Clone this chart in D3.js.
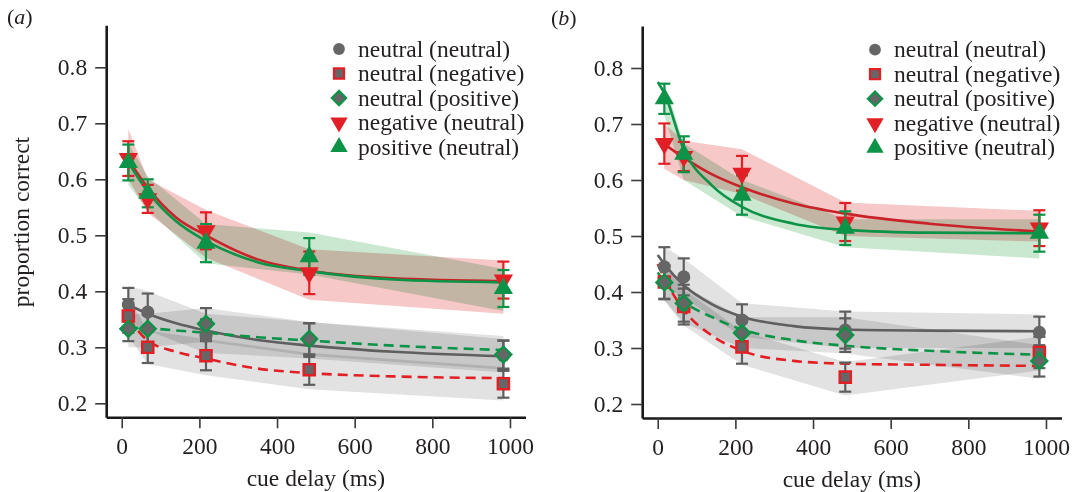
<!DOCTYPE html>
<html>
<head>
<meta charset="utf-8">
<script src="https://cdn.jsdelivr.net/npm/d3@7"></script>
<style>
  body { margin: 0; background: #fff; }
  svg { font-family: "Liberation Serif", "Times New Roman", serif; }
  .band { mix-blend-mode: multiply; }
</style>
</head>
<body>
<script>
// cue delays (ms) at which the data were taken
const delays = [17, 67, 217, 483, 983];
const fitDelaysA = [17, 67, 140, 217, 350, 483, 700, 983];
const fitDelaysB = [0, 17, 67, 140, 217, 350, 483, 700, 983];

const seriesNames = ["neutral (neutral)", "neutral (negative)", "neutral (positive)",
                     "negative (neutral)", "positive (neutral)"];
const xTicks = [0, 200, 400, 600, 800, 1000];
const yTicks = [0.2, 0.3, 0.4, 0.5, 0.6, 0.7, 0.8];

// ---- panel (a) ----
const aNeuNeu = [0.376, 0.363, 0.320, 0.313, 0.285];
const aNeuNeg = [0.356, 0.300, 0.285, 0.260, 0.235];
const aNeuPos = [0.333, 0.333, 0.342, 0.315, 0.287];
const aNegNeu = [0.637, 0.565, 0.508, 0.433, 0.420];
const aPosNeu = [0.630, 0.575, 0.486, 0.462, 0.405];

const aErrNeuNeu = [0.030, 0.033, 0.030, 0.030, 0.027];
const aErrNeuNeg = [0.030, 0.028, 0.026, 0.027, 0.025];
const aErrNeuPos = [0.022, 0.025, 0.028, 0.028, 0.025];
const aErrNegNeu = [0.031, 0.025, 0.033, 0.038, 0.033];
const aErrPosNeu = [0.032, 0.025, 0.034, 0.033, 0.033];

const aFitNeuNeu = [0.376, 0.360, 0.343, 0.330, 0.313, 0.303, 0.292, 0.284];
const aFitNeuNeg = [0.352, 0.312, 0.292, 0.280, 0.262, 0.254, 0.248, 0.245];
const aFitNeuPos = [0.335, 0.334, 0.330, 0.326, 0.318, 0.312, 0.303, 0.295];
const aFitNegNeu = [0.635, 0.585, 0.532, 0.500, 0.457, 0.437, 0.423, 0.418];
const aFitPosNeu = [0.630, 0.578, 0.525, 0.490, 0.452, 0.436, 0.421, 0.416];

const aBandLoNeuNeu = [0.345, 0.330, 0.290, 0.280, 0.255];
const aBandHiNeuNeu = [0.410, 0.400, 0.360, 0.345, 0.315];
const aBandLoNeuNeg = [0.320, 0.270, 0.250, 0.225, 0.205];
const aBandHiNeuNeg = [0.390, 0.330, 0.315, 0.290, 0.265];
const aBandLoNeuPos = [0.300, 0.300, 0.310, 0.285, 0.260];
const aBandHiNeuPos = [0.360, 0.360, 0.370, 0.345, 0.320];
const aBandLoNegNeu = [0.600, 0.540, 0.460, 0.385, 0.360];
const aBandHiNegNeu = [0.690, 0.600, 0.545, 0.475, 0.455];
const aBandLoPosNeu = [0.590, 0.545, 0.450, 0.430, 0.365];
const aBandHiPosNeu = [0.665, 0.605, 0.520, 0.505, 0.440];

// ---- panel (b) ----
const bNeuNeu = [0.445, 0.427, 0.350, 0.332, 0.328];
const bNeuNeg = [0.418, 0.374, 0.302, 0.248, 0.292];
const bNeuPos = [0.417, 0.380, 0.327, 0.323, 0.277];
const bNegNeu = [0.665, 0.642, 0.612, 0.525, 0.514];
const bPosNeu = [0.745, 0.646, 0.573, 0.514, 0.505];

const bErrNeuNeu = [0.035, 0.033, 0.028, 0.033, 0.028];
const bErrNeuNeg = [0.030, 0.032, 0.030, 0.026, 0.028];
const bErrNeuPos = [0.030, 0.033, 0.028, 0.030, 0.028];
const bErrNegNeu = [0.036, 0.026, 0.031, 0.034, 0.032];
const bErrPosNeu = [0.027, 0.032, 0.035, 0.030, 0.033];

const bFitNeuNeu = [0.466, 0.450, 0.412, 0.378, 0.356, 0.339, 0.333, 0.331, 0.330];
const bFitNeuNeg = [0.450, 0.425, 0.368, 0.322, 0.295, 0.277, 0.272, 0.270, 0.268];
const bFitNeuPos = [0.435, 0.418, 0.383, 0.355, 0.333, 0.314, 0.304, 0.295, 0.288];
const bFitNegNeu = [0.672, 0.664, 0.640, 0.610, 0.587, 0.558, 0.540, 0.522, 0.508];
const bFitPosNeu = [0.775, 0.755, 0.655, 0.590, 0.552, 0.522, 0.511, 0.506, 0.505];

const bBandLoNeuNeu = [0.410, 0.390, 0.320, 0.300, 0.300];
const bBandHiNeuNeu = [0.480, 0.460, 0.380, 0.365, 0.360];
const bBandLoNeuNeg = [0.385, 0.340, 0.270, 0.215, 0.260];
const bBandHiNeuNeg = [0.450, 0.405, 0.330, 0.275, 0.320];
const bBandLoNeuPos = [0.385, 0.345, 0.300, 0.290, 0.245];
const bBandHiNeuPos = [0.450, 0.410, 0.355, 0.355, 0.305];
const bBandLoNegNeu = [0.620, 0.600, 0.575, 0.500, 0.490];
const bBandHiNegNeu = [0.700, 0.670, 0.655, 0.560, 0.545];
const bBandLoPosNeu = [0.715, 0.600, 0.535, 0.480, 0.460];
const bBandHiPosNeu = [0.775, 0.665, 0.600, 0.530, 0.530];

// colours / styles
const RED = "#e31f26", GREEN = "#0d9347", GREY = "#666666", ERRGREY = "#5e5e5e";
const styles = [
  { shape: "circle",  fill: GREY,  stroke: "none", err: ERRGREY, band: "#e2e2e2", line: "#5f5f5f", dash: null },
  { shape: "square",  fill: GREY,  stroke: RED,    err: ERRGREY, band: "#e2e2e2", line: RED,       dash: "10,6" },
  { shape: "diamond", fill: GREY,  stroke: GREEN,  err: ERRGREY, band: "#e2e2e2", line: GREEN,     dash: "10,6" },
  { shape: "down",    fill: RED,   stroke: "none", err: RED,     band: "#f6c8c8", line: "#c9232a", dash: null },
  { shape: "up",      fill: GREEN, stroke: "none", err: GREEN,   band: "#cae7d0", line: GREEN,     dash: null }
];

function table(means, errs, fits, fitX, bandLo, bandHi) {
  return seriesNames.map((name, i) => ({
    name,
    style: styles[i],
    points: delays.map((t, j) => ({ t, v: means[i][j], e: errs[i][j] })),
    fit: fitX.map((t, j) => ({ t, v: fits[i][j] })),
    band: delays.map((t, j) => ({ t, lo: bandLo[i][j], hi: bandHi[i][j] }))
  }));
}

const panels = [
  { label: "a", dx: 0, dy: 0,
    series: table([aNeuNeu, aNeuNeg, aNeuPos, aNegNeu, aPosNeu],
                  [aErrNeuNeu, aErrNeuNeg, aErrNeuPos, aErrNegNeu, aErrPosNeu],
                  [aFitNeuNeu, aFitNeuNeg, aFitNeuPos, aFitNegNeu, aFitPosNeu], fitDelaysA,
                  [aBandLoNeuNeu, aBandLoNeuNeg, aBandLoNeuPos, aBandLoNegNeu, aBandLoPosNeu],
                  [aBandHiNeuNeu, aBandHiNeuNeg, aBandHiNeuPos, aBandHiNegNeu, aBandHiPosNeu]) },
  { label: "b", dx: 536, dy: 0.7,
    series: table([bNeuNeu, bNeuNeg, bNeuPos, bNegNeu, bPosNeu],
                  [bErrNeuNeu, bErrNeuNeg, bErrNeuPos, bErrNegNeu, bErrPosNeu],
                  [bFitNeuNeu, bFitNeuNeg, bFitNeuPos, bFitNegNeu, bFitPosNeu], fitDelaysB,
                  [bBandLoNeuNeu, bBandLoNeuNeg, bBandLoNeuPos, bBandLoNegNeu, bBandLoPosNeu],
                  [bBandHiNeuNeu, bBandHiNeuNeg, bBandHiNeuPos, bBandHiNegNeu, bBandHiPosNeu]) }
];

const svg = d3.select("body").append("svg")
    .attr("width", 1075)
    .attr("height", 492);

const x = d3.scaleLinear().domain([-40, 1040]).range([106.2, 525.5]);
const y = d3.scaleLinear().domain([0.175, 0.875]).range([417.3, 25.3]);

function symbolPath(shape, big) {
  const k = big ? 1 : 0.9;
  if (shape === "circle") return d3.symbol(d3.symbolCircle, 135 * k * k)();
  if (shape === "square") return d3.symbol(d3.symbolSquare, 125 * k * k)();
  if (shape === "diamond") return d3.symbol(d3.symbolSquare, 125 * k * k)();
  return d3.symbol(d3.symbolTriangle, 160 * k * k)();
}
function symbolRotate(shape) {
  if (shape === "diamond") return 45;
  if (shape === "down") return 180;
  return 0;
}

panels.forEach(p => {
  const g = svg.append("g").attr("transform", `translate(${p.dx},${p.dy})`);

  // bands
  const area = d3.area().x(d => x(d.t)).y0(d => y(d.lo)).y1(d => y(d.hi));
  g.selectAll("path.band")
    .data(p.series)
    .enter().append("path")
      .attr("class", "band")
      .attr("d", d => area(d.band))
      .attr("fill", d => d.style.band);

  // fitted curves
  const line = d3.line().x(d => x(d.t)).y(d => y(d.v)).curve(d3.curveMonotoneX);
  g.selectAll("path.fit")
    .data(p.series)
    .enter().append("path")
      .attr("class", "fit")
      .attr("d", d => line(d.fit))
      .attr("fill", "none")
      .attr("stroke", d => d.style.line)
      .attr("stroke-width", 2.6)
      .attr("stroke-dasharray", d => d.style.dash);

  // error bars
  p.series.forEach(s => {
    const eg = g.append("g")
        .attr("stroke", s.style.err)
        .attr("stroke-width", 2.2)
        .attr("fill", "none");
    s.points.forEach(d => {
      const cx = x(d.t), y0 = y(d.v - d.e), y1 = y(d.v + d.e);
      eg.append("line").attr("x1", cx).attr("x2", cx).attr("y1", y0).attr("y2", y1);
      eg.append("line").attr("x1", cx - 6).attr("x2", cx + 6).attr("y1", y0).attr("y2", y0);
      eg.append("line").attr("x1", cx - 6).attr("x2", cx + 6).attr("y1", y1).attr("y2", y1);
    });
  });

  // markers
  p.series.forEach(s => {
    g.selectAll(null)
      .data(s.points)
      .enter().append("path")
        .attr("d", symbolPath(s.style.shape, true))
        .attr("transform", d => `translate(${x(d.t)},${y(d.v)}) rotate(${symbolRotate(s.style.shape)})`)
        .attr("fill", s.style.fill)
        .attr("stroke", s.style.stroke)
        .attr("stroke-width", 2.4);
  });

  // axes
  const xAxis = g.append("g")
      .attr("transform", `translate(0,${y(0.175)})`)
      .call(d3.axisBottom(x).tickValues(xTicks).tickFormat(d3.format("d"))
            .tickSize(11).tickSizeOuter(0).tickPadding(9));
  const yAxis = g.append("g")
      .attr("transform", `translate(${x(-40)},0)`)
      .call(d3.axisLeft(y).tickValues(yTicks).tickFormat(d3.format(".1f"))
            .tickSize(11).tickSizeOuter(0).tickPadding(8));
  [xAxis, yAxis].forEach(a => {
    a.select(".domain").attr("stroke", "#1a1a1a").attr("stroke-width", 2.6);
    a.selectAll(".tick line").attr("stroke", "#3a3a3a").attr("stroke-width", 1.6);
    a.selectAll(".tick text")
      .attr("font-family", "Liberation Serif, serif")
      .attr("font-size", 23.5)
      .attr("fill", "#231f20");
  });

  g.append("text")
    .attr("x", (x(-40) + x(1040)) / 2)
    .attr("y", 486)
    .attr("text-anchor", "middle")
    .attr("font-size", 23.5)
    .attr("fill", "#231f20")
    .text("cue delay (ms)");

  if (p.label === "a") {
    g.append("text")
      .attr("transform", "rotate(-90)")
      .attr("x", -222)
      .attr("y", 28.5)
      .attr("text-anchor", "middle")
      .attr("font-size", 23.5)
      .attr("fill", "#231f20")
      .text("proportion correct");
  }

  // panel letter
  const lab = g.append("text")
      .attr("x", p.label === "a" ? 7 : 15)
      .attr("y", 24)
      .attr("font-size", 22)
      .attr("fill", "#231f20");
  lab.append("tspan").text("(");
  lab.append("tspan").attr("font-style", "italic").text(p.label);
  lab.append("tspan").text(")");

  // legend
  const leg = g.selectAll("g.legend")
    .data(p.series)
    .enter().append("g")
      .attr("class", "legend")
      .attr("transform", (d, i) => `translate(339,${49 + i * 24.5})`);
  leg.append("path")
    .attr("d", d => symbolPath(d.style.shape, false))
    .attr("transform", d => `rotate(${symbolRotate(d.style.shape)})`)
    .attr("fill", d => d.style.fill)
    .attr("stroke", d => d.style.stroke)
    .attr("stroke-width", 2.2);
  leg.append("text")
    .attr("x", 19)
    .attr("y", 7.5)
    .attr("font-size", 23.5)
    .attr("fill", "#231f20")
    .text(d => d.name);
});
</script>
</body>
</html>
